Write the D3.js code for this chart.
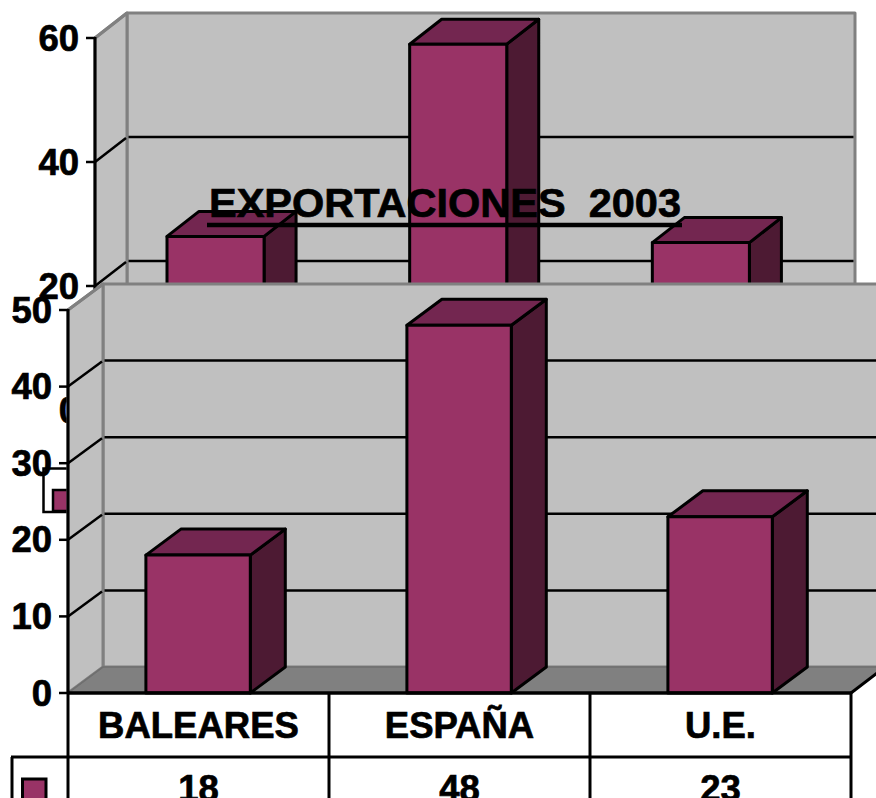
<!DOCTYPE html>
<html><head><meta charset="utf-8">
<script src="https://cdn.jsdelivr.net/npm/d3@7/dist/d3.min.js"></script>
<style>html,body{margin:0;padding:0;background:#fff;overflow:hidden}svg{display:block}
text{font-family:"Liberation Sans",Arial,sans-serif;font-weight:bold;fill:#000;stroke:#000;stroke-width:.7px;paint-order:stroke}</style></head>
<body><svg id="c" width="876" height="798"></svg>
<script>
const categories = ["BALEARES","ESPAÑA","U.E."];
const backValues = [28,59,27];
const frontValues = [18,48,23];
const backTicks = [0,20,40,60];
const frontTicks = [0,10,20,30,40,50];
const titleText = "EXPORTACIONES  2003";

const FACE="#993366", TOP="#732650", SIDE="#4d1a33", WALL="#c0c0c0", FLOOR="#808080", EDGE="#808080";
const svg=d3.select("#c");

function chart(o){
  const g=svg.append("g");
  const y=d3.scaleLinear().domain(o.domain).range([o.y0,o.y1]);
  const x=d3.scaleBand().domain(categories).range([o.x0,o.x1]).paddingInner(o.gap/(1+o.gap)).paddingOuter(o.gap/(1+o.gap)/2);
  const dx=o.dx,dy=o.dy;
  const poly=(pts,fill,stroke,sw)=>g.append("polygon").attr("points",pts.map(p=>p.join(",")).join(" "))
    .attr("fill",fill).attr("stroke",stroke||"none").attr("stroke-width",sw||0).attr("stroke-linejoin","round");
  const line=(a,b,c,c2,s)=>g.append("line").attr("x1",a).attr("y1",b).attr("x2",c).attr("y2",c2).attr("stroke",s.c||"#000").attr("stroke-width",s.w||2.5);
  poly([[o.x0+dx,o.y1+dy],[o.x1+dx,o.y1+dy],[o.x1+dx,o.y0+dy],[o.x0+dx,o.y0+dy]],WALL,EDGE,3);
  poly([[o.x0,o.y1],[o.x0+dx,o.y1+dy],[o.x0+dx,o.y0+dy],[o.x0,o.y0]],WALL,EDGE,3);
  poly([[o.x0,o.y0],[o.x0+dx,o.y0+dy],[o.x1+dx,o.y0+dy],[o.x1,o.y0]],FLOOR,"#6f6f6f",1.5);
  o.ticks.filter(t=>t>o.domain[0]&&t<o.domain[1]).forEach(t=>{
    line(o.x0,y(t),o.x0+dx-1,y(t)+dy+1,{w:2.5});
    line(o.x0+dx+1.5,y(t)+dy,o.x1+dx-1.5,y(t)+dy,{w:2.5});
  });
  line(o.x0,o.y1,o.x0+dx,o.y1+dy,{c:EDGE,w:3});
  line(o.x0,o.y0,o.x0+dx,o.y0+dy,{c:"#6f6f6f",w:1.5});
  categories.forEach((c,i)=>{
    const v=o.values[i], l=x(c)+o.shift, r=l+x.bandwidth(), t=y(v), b=o.y0;
    poly([[r,b],[r+dx,b+dy],[r+dx,t+dy],[r,t]],SIDE,"#000",3);
    poly([[l,t],[l+dx,t+dy],[r+dx,t+dy],[r,t]],TOP,"#000",3);
    poly([[l,t],[r,t],[r,b],[l,b]],FACE,"#000",3);
  });
  line(o.x0,o.y1-1,o.x0,o.y0+1,{w:3});
  o.ticks.forEach(t=>{
    line(o.x0-9,y(t),o.x0,y(t),{w:2.5});
    g.append("text").attr("x",o.x0-16).attr("y",y(t)).attr("dy",12.5).attr("text-anchor","end")
      .attr("font-size",36.5).text(t);
  });
  return {g,x,y};
}

const back=chart({domain:[0,60],ticks:backTicks,values:backValues,x0:95,x1:823,y0:410,y1:38,dx:32,dy:-25,gap:1.5,shift:-0.8});
back.g.append("rect").attr("x",43.5).attr("y",468.5).attr("width",60).attr("height",43.5).attr("fill","#fff").attr("stroke","#000").attr("stroke-width",2.5);
back.g.append("rect").attr("x",53).attr("y",490).attr("width",20).attr("height",21).attr("fill",FACE).attr("stroke","#000").attr("stroke-width",2.5);

svg.append("text").attr("x",445).attr("y",217).attr("text-anchor","middle").attr("font-size",41.5)
  .attr("xml:space","preserve").style("white-space","pre").text(titleText);
svg.append("line").attr("x1",207).attr("x2",682).attr("y1",225).attr("y2",225).attr("stroke","#000").attr("stroke-width",4.5);

const front=chart({domain:[0,50],ticks:frontTicks,values:frontValues,x0:68,x1:851,y0:693,y1:310,dx:35,dy:-26,gap:1.5,shift:-0.4});

const tg=svg.append("g");
const tl=(a,b,c,d,w)=>tg.append("line").attr("x1",a).attr("y1",b).attr("x2",c).attr("y2",d).attr("stroke","#000").attr("stroke-width",w||3);
tl(68,693,851,693,3.5);
tl(11,757,851,757);
tl(12,757,12,800);
tl(68,693,68,800);
categories.forEach((c,i)=>{
  const cellR=front.x.step()*(i+1)+68;
  tl(cellR,693,cellR,800);
  const cx=front.x(c)+front.x.bandwidth()/2;
  tg.append("text").attr("x",cx).attr("y",738).attr("text-anchor","middle").attr("font-size",36.5).text(c);
  tg.append("text").attr("x",cx).attr("y",801).attr("text-anchor","middle").attr("font-size",36.5).text(frontValues[i]);
});
tl(851,693,885,667);
tg.append("rect").attr("x",22.5).attr("y",779).attr("width",23.5).attr("height",24).attr("fill",FACE).attr("stroke","#000").attr("stroke-width",3);
</script></body></html>
